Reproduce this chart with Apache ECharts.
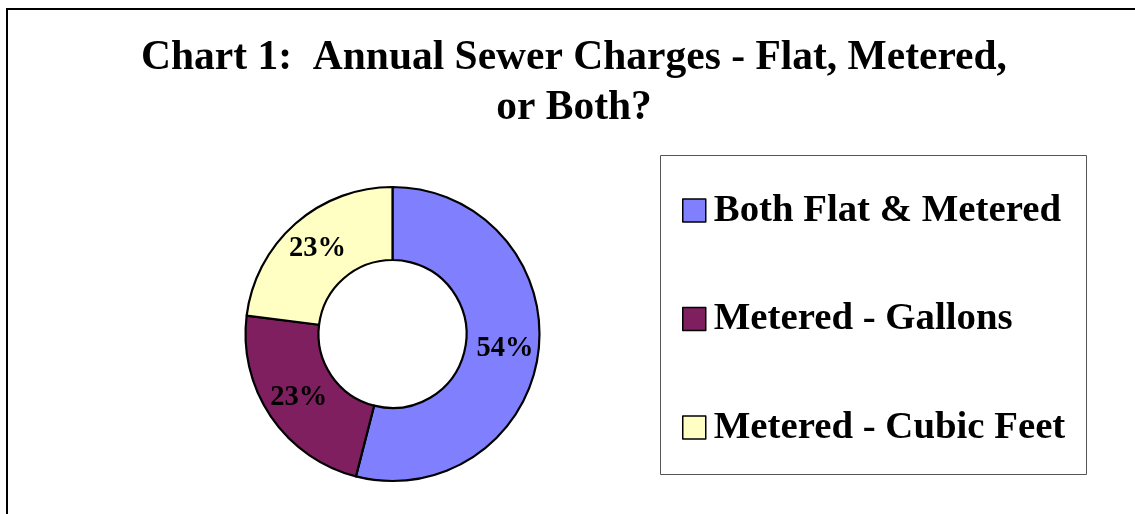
<!DOCTYPE html>
<html>
<head>
<meta charset="utf-8">
<script src="https://cdn.jsdelivr.net/npm/echarts@6/dist/echarts.min.js"></script>
<style>
  html, body { margin: 0; padding: 0; background: #fff; }
  #chart { width: 1135px; height: 514px; }
</style>
</head>
<body>
<div id="chart"></div>
<script>
const categories = ["Both Flat & Metered", "Metered - Gallons", "Metered - Cubic Feet"];
const shares = [54, 23, 23];
const colors = ["#8080ff", "#7f1f5f", "#ffffc4"];

const serif = "'Liberation Serif', 'Times New Roman', serif";

const chart = echarts.init(document.getElementById("chart"));

const option = {
  backgroundColor: "#fff",
  animation: false,
  title: {
    text: "Chart 1:  Annual Sewer Charges - Flat, Metered,\nor Both?",
    left: 569,
    top: 28,
    textAlign: "center",
    textStyle: {
      fontFamily: serif,
      fontWeight: "bold",
      fontSize: 41.5,
      lineHeight: 50,
      color: "#000",
    },
  },
  graphic: [
    // outer frame (right and bottom edges fall outside the picture)
    {
      type: "rect",
      shape: { x: 7, y: 9, width: 1200, height: 600 },
      style: { fill: "none", stroke: "#000", lineWidth: 2 },
      silent: true,
    },
    // legend box
    {
      type: "rect",
      shape: { x: 660.5, y: 155.5, width: 426, height: 319 },
      style: { fill: "#fff", stroke: "#555", lineWidth: 1 },
      silent: true,
      z: 0,
    },
  ],
  legend: {
    orient: "vertical",
    left: 682,
    top: 191,
    padding: 0,
    itemWidth: 23,
    itemHeight: 23,
    itemGap: 69.5,
    icon: "rect",
    selectedMode: false,
    itemStyle: { borderColor: "#000", borderWidth: 1.5 },
    textStyle: {
      fontFamily: serif,
      fontWeight: "bold",
      fontSize: 38.8,
      color: "#000",
      padding: [0, 0, 0, 3],
    },
    data: categories,
    z: 5,
  },
  series: [
    {
      type: "pie",
      center: [392.5, 334],
      radius: [74, 147],
      startAngle: 90,
      clockwise: true,
      itemStyle: { borderColor: "#000", borderWidth: 2.2 },
      emphasis: { disabled: true },
      label: {
        show: true,
        position: "inside",
        formatter: (p) => p.value + "%",
        fontFamily: serif,
        fontWeight: "bold",
        fontSize: 28.5,
        color: "#000",
      },
      labelLine: { show: false },
      data: categories.map((name, i) => ({
        name,
        value: shares[i],
        itemStyle: { color: colors[i] },
      })),
    },
  ],
};

chart.setOption(option);
</script>
</body>
</html>
